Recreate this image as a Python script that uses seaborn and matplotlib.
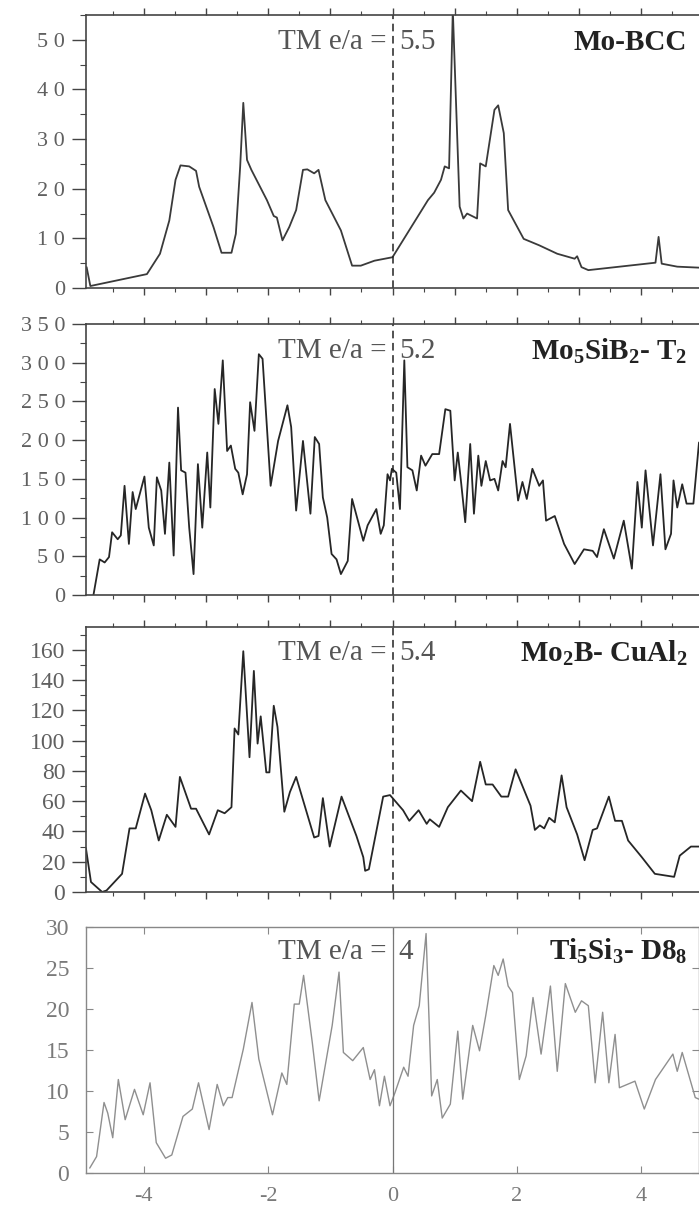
import matplotlib
matplotlib.use("Agg")
import matplotlib.pyplot as plt
from matplotlib.ticker import MultipleLocator, FuncFormatter
import seaborn as sns

# Mo-BCC, TM e/a = 5.5
bcc_x = [-4.92, -4.86, -3.95, -3.74, -3.59, -3.49, -3.41, -3.27, -3.16, -3.11, -2.88, -2.75,
         -2.59, -2.52, -2.45, -2.40, -2.34, -2.27, -2.02, -1.91, -1.86, -1.77, -1.66, -1.55,
         -1.44, -1.37, -1.26, -1.19, -1.08, -0.83, -0.65, -0.51, -0.29, 0.0, 0.57, 0.67,
         0.78, 0.84, 0.91, 0.97, 1.08, 1.14, 1.20, 1.36, 1.41, 1.50, 1.64, 1.70, 1.79, 1.86,
         2.11, 2.36, 2.65, 2.93, 2.97, 3.04, 3.15, 4.23, 4.28, 4.33, 4.58, 4.93]
bcc_y = [4.2, 0.4, 2.8, 6.9, 13.6, 21.8, 24.7, 24.5, 23.6, 20.4, 12.3, 7.1,
         7.1, 10.9, 24.5, 37.3, 25.8, 23.8, 17.7, 14.5, 14.2, 9.6, 12.3, 15.7,
         23.8, 23.9, 23.1, 23.8, 17.7, 11.6, 4.5, 4.5, 5.5, 6.2, 17.7, 19.2,
         21.8, 24.5, 24.1, 56.0, 16.4, 14.0, 15.0, 14.0, 25.1, 24.5, 35.9, 36.8, 31.2, 15.7,
         9.9, 8.6, 6.9, 5.9, 6.4, 4.2, 3.6, 5.1, 10.3, 4.9, 4.3, 4.1]

# Mo5SiB2 - T2, TM e/a = 5.2
t2_x = [-4.81, -4.71, -4.63, -4.56, -4.51, -4.42, -4.37, -4.31, -4.24, -4.18, -4.13, -3.99,
        -3.92, -3.84, -3.79, -3.72, -3.66, -3.59, -3.52, -3.45, -3.40, -3.33, -3.27, -3.20,
        -3.13, -3.06, -2.98, -2.93, -2.86, -2.80, -2.73, -2.66, -2.60, -2.53, -2.48, -2.41,
        -2.34, -2.29, -2.22, -2.15, -2.09, -1.96, -1.84, -1.69, -1.63, -1.55, -1.44, -1.32,
        -1.25, -1.18, -1.12, -1.05, -0.98, -0.90, -0.83, -0.72, -0.65, -0.47, -0.40, -0.26,
        -0.19, -0.14, -0.08, -0.04, -0.01, 0.06, 0.12, 0.19, 0.24, 0.32, 0.39, 0.46,
        0.53, 0.64, 0.75, 0.85, 0.93, 1.00, 1.05, 1.10, 1.17, 1.25, 1.31, 1.38,
        1.43, 1.50, 1.57, 1.64, 1.70, 1.77, 1.82, 1.89, 2.02, 2.09, 2.16, 2.25,
        2.36, 2.42, 2.47, 2.61, 2.76, 2.93, 3.08, 3.22, 3.29, 3.40, 3.56, 3.72,
        3.85, 3.94, 4.01, 4.07, 4.19, 4.31, 4.39, 4.48, 4.52, 4.58, 4.66, 4.73,
        4.84, 4.93]
t2_y = [0, 46, 42, 49, 81, 72, 77, 141, 66, 133, 111, 153,
        87, 64, 152, 135, 79, 171, 51, 242, 161, 158, 87, 27,
        169, 87, 184, 113, 266, 221, 303, 186, 193, 163, 158, 130,
        156, 249, 212, 311, 305, 141, 199, 245, 217, 109, 199, 105,
        204, 195, 126, 100, 53, 46, 27, 44, 124, 70, 90, 111,
        79, 90, 156, 148, 163, 158, 111, 303, 165, 161, 135, 180,
        167, 182, 182, 240, 238, 148, 184, 148, 94, 195, 105, 180,
        141, 173, 148, 150, 135, 173, 165, 221, 122, 146, 124, 163,
        141, 148, 96, 102, 66, 40, 59, 57, 49, 85, 47, 96,
        34, 146, 87, 161, 64, 156, 59, 79, 148, 113, 143, 118,
        118, 197]

# Mo2B - CuAl2, TM e/a = 5.4
cual_x = [-4.93, -4.85, -4.67, -4.60, -4.35, -4.23, -4.13, -3.98, -3.88, -3.76, -3.63, -3.49,
          -3.42, -3.24, -3.16, -2.95, -2.81, -2.70, -2.59, -2.54, -2.48, -2.40, -2.30, -2.23,
          -2.17, -2.12, -2.03, -1.98, -1.91, -1.85, -1.74, -1.65, -1.55, -1.26, -1.19, -1.12,
          -1.01, -0.82, -0.58, -0.47, -0.44, -0.38, -0.15, -0.04, 0.17, 0.27, 0.42, 0.55,
          0.60, 0.75, 0.89, 1.10, 1.28, 1.41, 1.50, 1.61, 1.75, 1.86, 1.98, 2.06,
          2.22, 2.29, 2.37, 2.44, 2.52, 2.61, 2.72, 2.80, 2.97, 3.09, 3.22, 3.29,
          3.48, 3.58, 3.69, 3.79, 4.01, 4.22, 4.53, 4.62, 4.80, 4.93]
cual_y = [28.6, 6.6, 0, 1, 12, 42, 42, 65, 54, 34, 51, 43,
          76, 55, 55, 38, 54, 52, 56, 108, 104, 159, 89, 146,
          98, 116, 79, 79, 123, 109, 53, 66, 76, 36, 37, 62,
          30, 63, 37, 23, 14, 15, 63, 64, 54, 47, 54, 45,
          48, 43, 56, 67, 60, 86, 71, 71, 63, 63, 81, 73,
          57, 41, 44, 42, 49, 46, 77, 56, 38, 21, 41, 42,
          63, 47, 47, 34, 23, 12, 10, 24, 30, 30]

# Ti5Si3 - D8_8, TM e/a = 4
d88_x = [-4.87, -4.76, -4.64, -4.58, -4.50, -4.41, -4.30, -4.15, -4.01, -3.90, -3.80, -3.65,
         -3.55, -3.37, -3.22, -3.12, -2.95, -2.82, -2.72, -2.65, -2.58, -2.40, -2.26, -2.15,
         -1.93, -1.78, -1.70, -1.58, -1.50, -1.43, -1.29, -1.18, -0.97, -0.86, -0.79, -0.64,
         -0.47, -0.36, -0.29, -0.21, -0.13, -0.04, 0.04, 0.18, 0.25, 0.34, 0.43, 0.54,
         0.63, 0.72, 0.80, 0.93, 1.05, 1.13, 1.29, 1.40, 1.50, 1.63, 1.70, 1.78,
         1.86, 1.93, 2.04, 2.15, 2.26, 2.39, 2.54, 2.65, 2.78, 2.94, 3.04, 3.15,
         3.26, 3.38, 3.48, 3.58, 3.65, 3.90, 4.05, 4.23, 4.51, 4.58, 4.66, 4.87, 4.93]
d88_y = [0.6, 2.0, 8.6, 7.3, 4.3, 11.4, 6.5, 10.2, 7.1, 11.0, 3.7, 1.8,
         2.2, 6.9, 7.8, 11.0, 5.3, 10.8, 8.2, 9.2, 9.2, 15.1, 20.8, 13.9,
         7.1, 12.2, 10.8, 20.6, 20.6, 24.1, 15.9, 8.8, 18.0, 24.5, 14.7, 13.7,
         15.3, 11.4, 12.6, 8.2, 11.8, 8.2, 9.8, 12.9, 11.8, 18.0, 20.4, 29.2,
         9.4, 11.4, 6.7, 8.4, 17.3, 9.0, 18.0, 14.9, 19.2, 25.3, 24.1, 26.1,
         22.8, 22.0, 11.4, 14.3, 21.4, 14.5, 22.8, 12.4, 23.1, 19.6, 21.0, 20.4,
         11.0, 19.6, 11.0, 16.9, 10.4, 11.2, 7.8, 11.4, 14.5, 12.4, 14.7, 9.2, 9.0]

labels = ["Mo-BCC", "Mo$_5$SiB$_2$- T$_2$", "Mo$_2$B- CuAl$_2$", "Ti$_5$Si$_3$- D8$_8$"]
ea_values = ["5.5", "5.2", "5.4", "4"]
ylims = [55, 350, 175, 30]
ymajor = [10, 50, 20, 5]
yminor = [5, 25, 10, None]
label_sizes = [16, 16, 17, 17]


def spaced(v, pos):
    # the source figure has widely spaced digits on the top two panels
    return " ".join(str(int(v)))


sns.set_style("ticks")
plt.rcParams["font.family"] = ["Liberation Serif", "DejaVu Serif"]
plt.rcParams["mathtext.default"] = "regular"
plt.rcParams["axes.unicode_minus"] = False

fig = plt.figure(figsize=(6.99, 12.06), dpi=100)
W, H = 699.0, 1206.0
boxes = [(15, 288), (324, 595), (627, 892), (927, 1173)]
series = [(bcc_x, bcc_y), (t2_x, t2_y), (cual_x, cual_y), (d88_x, d88_y)]

for i, ((top, bot), (xs, ys)) in enumerate(zip(boxes, series)):
    ax = fig.add_axes([86 / W, 1 - bot / H, 1 - 86 / W, (bot - top) / H])
    last = i == 3
    line_color = "#8f8f8f" if last else ("#3a3a3a" if i == 0 else "#262626")
    sns.lineplot(x=xs, y=ys, ax=ax, color=line_color, lw=1.0 if last else 1.3,
                 sort=False, estimator=None)
    ax.set_xlim(-4.93, 4.93)
    ax.set_ylim(0, ylims[i])
    ax.yaxis.set_major_locator(MultipleLocator(ymajor[i]))
    if last:
        ax.axvline(0, color="#777777", lw=0.9)
        ax.xaxis.set_major_locator(MultipleLocator(2))
        ax.tick_params(axis="both", which="major", direction="in", length=5, width=0.8,
                       top=True, right=True, colors="#888888", labelsize=label_sizes[i],
                       labelcolor="#7a7a7a")
        ax.tick_params(axis="y", pad=12)
        ax.tick_params(axis="x", pad=10, labelsize=16)
        for s in ax.spines.values():
            s.set_color("#888888")
            s.set_linewidth(1.0)
    else:
        ax.axvline(0, color="#222222", lw=1.1, ls=(0, (5, 3)))
        ax.xaxis.set_major_locator(MultipleLocator(1))
        ax.xaxis.set_minor_locator(MultipleLocator(0.5))
        ax.yaxis.set_minor_locator(MultipleLocator(yminor[i]))
        if i < 2:
            ax.yaxis.set_major_formatter(FuncFormatter(spaced))
        ax.tick_params(axis="x", which="major", direction="out", length=5, width=1.0,
                       top=True, colors="#444444", labelbottom=False)
        ax.tick_params(axis="x", which="minor", direction="out", length=3, width=0.8,
                       top=True, colors="#444444")
        ax.tick_params(axis="y", which="major", direction="out", length=10, width=1.0,
                       colors="#444444", labelsize=label_sizes[i], labelcolor="#606060", pad=5)
        ax.tick_params(axis="y", which="minor", direction="out", length=4, width=0.8,
                       colors="#444444")
        ax.spines["right"].set_visible(False)
        for s in ["left", "top", "bottom"]:
            ax.spines[s].set_color("#444444")
            ax.spines[s].set_linewidth(1.2)
    ax.set_xlabel("")
    ax.set_ylabel("")
    ax.text(-0.1, 0.9, "TM e/a =", transform=ax.get_xaxis_transform(),
            ha="right", va="center", fontsize=21, color="#555555")
    ax.text(0.1, 0.9, ea_values[i], transform=ax.get_xaxis_transform(),
            ha="left", va="center", fontsize=21, color="#555555")
    ax.text(4.74, 0.9, labels[i], transform=ax.get_xaxis_transform(),
            ha="right", va="center", fontsize=21, fontweight="bold", color="#222222")

fig.savefig("out.png", dpi=100)
